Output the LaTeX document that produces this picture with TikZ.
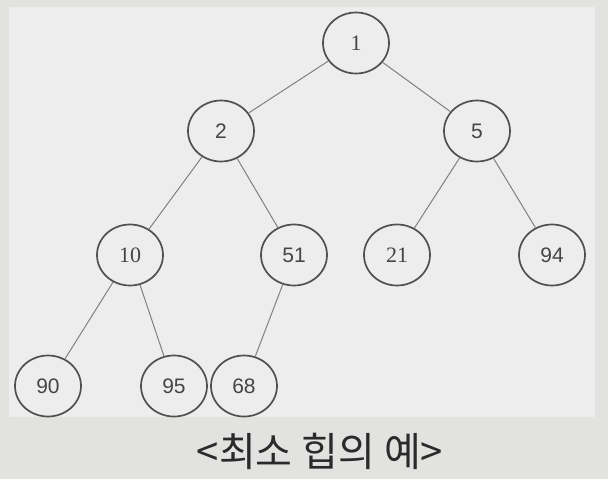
\documentclass[tikz,border=0pt]{standalone}
\usepackage{fontspec}
\usetikzlibrary{shapes.geometric}
\newfontfamily\serifdigits{Liberation Serif}
\newfontfamily\sansdigits{Liberation Sans}
\newfontfamily\kr{Noto Sans CJK KR}
\definecolor{pagebg}{HTML}{E2E2E0}
\definecolor{panelbg}{HTML}{EDEDED}
\definecolor{ring}{HTML}{505050}
\definecolor{link}{HTML}{808080}
\definecolor{digit}{HTML}{454545}
\definecolor{caption}{HTML}{2A2A2A}
\tikzset{
  heapnode/.style={ellipse, draw=ring, line width=1.7pt, fill=panelbg,
    minimum width=66pt, minimum height=61pt, inner sep=0pt, text=digit},
  sf/.style={heapnode, font=\sansdigits\fontsize{21}{21}\selectfont},
  rm/.style={heapnode, font=\serifdigits\fontsize{22}{22}\selectfont},
  heapedge/.style={draw=link, line width=1pt}
}
\begin{document}
\begin{tikzpicture}[x=1pt, y=-1pt]
  % page and panel
  \fill[pagebg] (0,0) rectangle (608,479);
  \useasboundingbox (0,0) rectangle (608,479);
  \fill[panelbg] (9,7) rectangle (595,417);

  % heap nodes
  \node[rm] (n1)  at (356,43)  {1};
  \node[sf] (n2)  at (221,131) {2};
  \node[sf] (n5)  at (477,131) {5};
  \node[rm] (n10) at (130,255) {10};
  \node[sf] (n51) at (294,255) {51};
  \node[rm] (n21) at (397,255) {21};
  \node[sf] (n94) at (552,255) {94};
  \node[sf] (n90) at (48,386)  {90};
  \node[sf] (n95) at (174,386) {95};
  \node[sf] (n68) at (244,386) {68};

  % parent-child links
  \foreach \p/\c in {n1/n2, n1/n5, n2/n10, n2/n51, n5/n21, n5/n94,
                     n10/n90, n10/n95, n51/n68}
    \draw[heapedge] (\p) -- (\c);

  % caption
  \node[font=\kr\fontsize{40}{40}\selectfont, text=caption] (cap) at (320,451)
    {<최소 힙의 예>};
\end{tikzpicture}
\end{document}
